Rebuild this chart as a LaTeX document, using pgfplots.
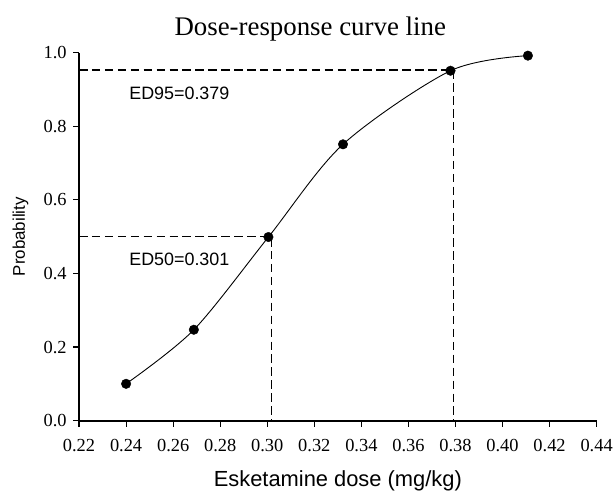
\documentclass[border=0pt]{standalone}
\usepackage{fontspec}
\setmainfont{Liberation Serif}
\newfontfamily\arial{Liberation Sans}
\usepackage{pgfplots}
\pgfplotsset{compat=1.18}
\begin{document}
\begin{tikzpicture}
\useasboundingbox (-79.5pt,-76pt) rectangle (538pt,423pt);
\begin{axis}[
  scale only axis,
  width=520.5pt, height=370pt,
  xmin=0.22, xmax=0.44, ymin=0, ymax=1.0,
  axis x line*=bottom, axis y line*=left,
  axis line style={line width=1.8pt},
  xtick={0.22,0.24,...,0.441},
  ytick={0,0.2,0.4,0.6,0.8,1.0},
  tick align=outside, major tick length=6pt,
  tick style={line width=1.2pt, black},
  xticklabel style={/pgf/number format/fixed,/pgf/number format/fixed zerofill,/pgf/number format/precision=2, font=\fontsize{18.5}{20}\selectfont, yshift=-9pt},
  yticklabel style={/pgf/number format/fixed,/pgf/number format/fixed zerofill,/pgf/number format/precision=1, font=\fontsize{18.5}{20}\selectfont, xshift=-3pt},
  /pgf/number format/assume math mode=true,
  scaled ticks=false,
  title={Dose-response curve line},
  title style={font=\fontsize{27}{30}\selectfont, at={(axis description cs:0.4467,1.03)}, anchor=base, inner sep=0pt},
  xlabel={\arial Esketamine dose (mg/kg)},
  ylabel={\arial Probability},
  xlabel style={font=\fontsize{22}{24}\selectfont, at={(axis description cs:0.5,-0.1784)}, anchor=base, inner sep=0pt},
  ylabel style={font=\fontsize{17}{19}\selectfont, at={(axis description cs:-0.1047,0.5)}, anchor=base, inner sep=0pt},
  clip=false,
]
\addplot[black, line width=0.9pt, smooth, mark=none] coordinates {
  (0.2400,0.100) (0.2688,0.247) (0.3005,0.499) (0.3322,0.751) (0.3779,0.951) (0.4108,0.992)
};
\addplot[black, only marks, mark=*, mark size=4.8pt] coordinates {
  (0.2400,0.100) (0.2688,0.247) (0.3005,0.499) (0.3322,0.751) (0.3779,0.951) (0.4108,0.992)
};
\addplot[black, line width=1.3pt, dash pattern=on 8.5pt off 4.5pt] coordinates {(0.22,0.5) (0.3018,0.5) (0.3018,0)};
\addplot[black, line width=1.3pt, dash pattern=on 8.5pt off 4.5pt] coordinates {(0.22,0.953) (0.3792,0.953) (0.3792,0)};
\node[anchor=west, inner sep=0pt, font=\arial\fontsize{18}{20}\selectfont] at (axis cs:0.2413,0.89) {ED95=0.379};
\node[anchor=west, inner sep=0pt, font=\arial\fontsize{18}{20}\selectfont] at (axis cs:0.2413,0.438) {ED50=0.301};
\end{axis}
\end{tikzpicture}
\end{document}
